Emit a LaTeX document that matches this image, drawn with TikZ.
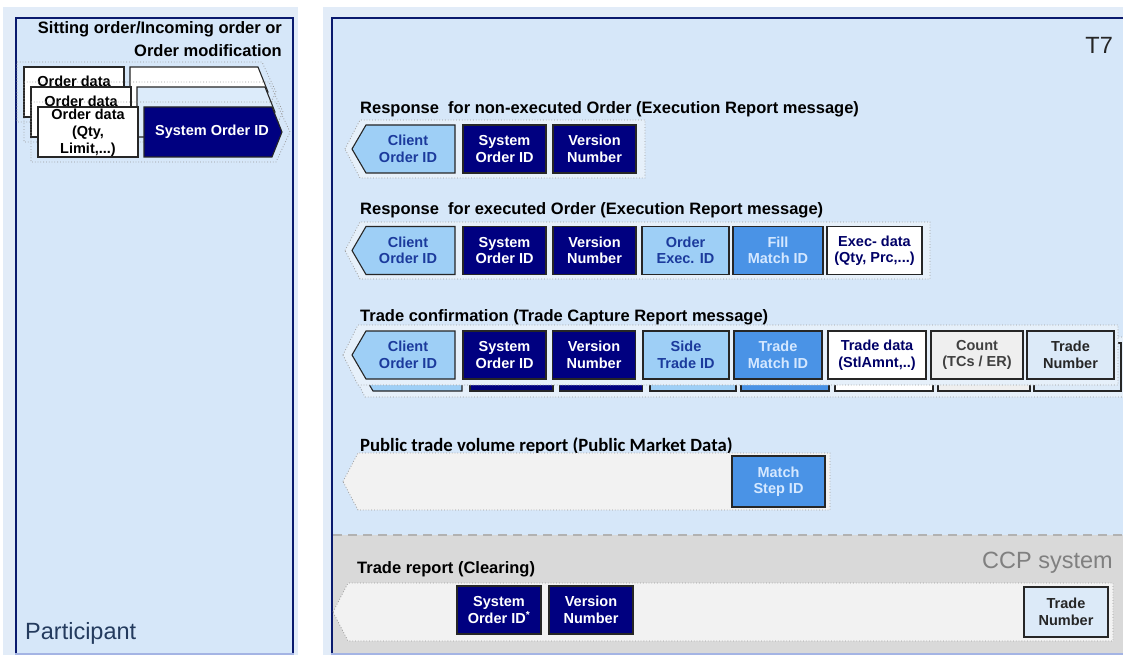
\documentclass[tikz,border=0pt]{standalone}
\usepackage{fontspec}
\setmainfont{Liberation Sans}
\newfontfamily\calfont{Carlito}
\definecolor{panelfill}{HTML}{D6E7F9}
\definecolor{framefill}{HTML}{E2ECF8}
\definecolor{panelline}{HTML}{0A1A6E}
\definecolor{navybox}{HTML}{000080}
\definecolor{lightbox}{HTML}{9ECFF6}
\definecolor{midbox}{HTML}{4A93E6}
\definecolor{countbox}{HTML}{EFEFEF}
\definecolor{numbox}{HTML}{DCEAF8}
\definecolor{layerblue}{HTML}{DCEBFA}
\definecolor{envfill}{HTML}{E6F0FA}
\definecolor{greyenv}{HTML}{F2F2F2}
\definecolor{ccpfill}{HTML}{D9D9D9}
\definecolor{boxline}{HTML}{262626}
\definecolor{bluetext}{HTML}{1B3A9C}
\definecolor{paletext}{HTML}{D5E8FF}
\definecolor{labeltext}{HTML}{243B5E}
\definecolor{bottomline}{HTML}{A4B4E4}
\newcommand{\fieldfont}{\bfseries\fontsize{14.5}{16.5}\selectfont}
\newcommand{\titlefont}{\bfseries\fontsize{16.5}{19}\selectfont}
\newcommand{\envelope}[5]{%
  \filldraw[env, fill=#5] (#1,{(#2+#3)/2}) -- ({#1+15},#2) -- (#4,#2) -- (#4,#3) -- ({#1+15},#3) -- cycle;}
\newcommand{\clientfield}[3]{%
  \filldraw[fieldline, fill=lightbox] (352,#2) -- (366,{#2-24}) -- (455,{#2-24}) -- (455,{#2+24}) -- (366,{#2+24}) -- cycle;
  \node[fieldtext, text=bluetext] (#1) at (408,#2) {#3};}

\begin{document}
\begin{tikzpicture}[x=1pt, y=-1pt,
  env/.style={draw=gray!80, dotted, line width=0.8pt},
  fieldline/.style={draw=boxline, line width=1.1pt},
  fieldtext/.style={font=\fieldfont, align=center, inner sep=0pt},
  field/.style={fieldline, fieldtext, minimum width=83pt, minimum height=48pt},
  navyfield/.style={field, fill=navybox, text=white},
  lightfield/.style={field, fill=lightbox, text=bluetext},
  midfield/.style={field, fill=midbox, text=paletext},
  whitefield/.style={field, fill=white, text=navybox!80!black},
  rowtitle/.style={font=\titlefont, anchor=base west, inner sep=0pt},
  panellabel/.style={font=\fontsize{23.5}{26}\selectfont, inner sep=0pt}]
\useasboundingbox (0,0) rectangle (1123,655);
\clip (0,0) rectangle (1123,655);
\fill[framefill] (3,7) rectangle (298,660);
\fill[framefill] (323,7) rectangle (1130,660);
\filldraw[fill=panelfill, draw=panelline, line width=2.2pt] (16,18) rectangle (293,670);
\filldraw[fill=panelfill, draw=panelline, line width=2.2pt] (332,18) rectangle (1140,670);
\fill[ccpfill] (333.2,535) rectangle (1123,655);
\draw[gray!60, dash pattern=on 9pt off 6pt, line width=2pt] (333,535) -- (1123,535);
\draw[bottomline, line width=1.2pt] (15,654) -- (294,654) (331,654) -- (1123,654);

\node[panellabel, anchor=east, text=black!85] (t7) at (1113,45) {T7};
\node[panellabel, anchor=east, text=gray] (ccp) at (1113,563) {CCP system};
\node[panellabel, anchor=west, text=labeltext] (part) at (25,633) {Participant};

% participant side
\node[font=\bfseries\fontsize{16.5}{23}\selectfont, align=right, anchor=north east, inner sep=0pt] (sitting) at (282,21) {Sitting order/Incoming order or\\Order modification};
\foreach \k/\af in {0/white,1/layerblue,2/navybox}{
  \begin{scope}[shift={(7*\k,20*\k)}]
    \draw[env] (17,62) -- (262,62) -- (276,92) -- (262,122) -- (17,122) -- cycle;
    \filldraw[fieldline, fill=\af] (130,67) -- (258,67) -- (268,92) -- (258,117) -- (130,117) -- cycle;
    \node[fieldline, fill=white, minimum width=100pt, minimum height=50pt] (ord\k) at (74,92) {};
    \ifnum\k<2
      \node[fieldtext] (ordtxt\k) at (74,81) {Order data};
    \else
      \node[fieldtext, font=\bfseries\fontsize{14.5}{17}\selectfont] (ordtxt\k) at (74,93) {Order data\\(Qty,\\Limit,...)};
      \node[fieldtext, text=white] (sysid) at (198,92) {System Order ID};
    \fi
  \end{scope}
}

% non-executed
\node[rowtitle] (r1) at (360,114) {Response\ \ for non-executed Order (Execution Report message)};
\envelope{345}{120}{178}{645}{envfill}
\clientfield{co1}{149}{Client\\Order ID}
\node[navyfield] (so1) at (504.5,149) {System\\Order ID};
\node[navyfield] (vn1) at (594.5,149) {Version\\Number};

% executed
\node[rowtitle] (r2) at (360,214) {Response\ \ for executed Order (Execution Report message)};
\envelope{345}{222}{279}{930}{envfill}
\clientfield{co2}{250.5}{Client\\Order ID}
\node[navyfield] (so2) at (504.5,250.5) {System\\Order ID};
\node[navyfield] (vn2) at (594.5,250.5) {Version\\Number};
\node[lightfield, minimum width=87pt] (oe2) at (685.5,250.5) {Order\\Exec. ID};
\node[midfield, minimum width=90pt] (fm2) at (778,250.5) {Fill\\Match ID};
\node[whitefield, minimum width=95pt] (ed2) at (874.5,250.5) {Exec- data\\(Qty, Prc,...)};

% trade confirmation
\node[rowtitle] (r3) at (360,321) {Trade confirmation (Trade Capture Report message)};
\begin{scope}[shift={(7,12)}]
  \envelope{343}{325}{385}{1125}{envfill}
  \clientfield{cob3}{355}{}
  \foreach \cx/\w/\f [count=\i] in {504.5/83pt/navybox, 594/83pt/navybox, 686/86pt/lightbox, 778/88pt/midbox, 877/98pt/white, 977/92pt/countbox, 1070.5/87pt/numbox}
    \node[field, fill=\f, minimum width=\w] (back\i) at (\cx,355) {};
\end{scope}
\envelope{343}{325}{385}{1118}{envfill}
\clientfield{co3}{355}{Client\\Order ID}
\node[navyfield] (so3) at (504.5,355) {System\\Order ID};
\node[navyfield] (vn3) at (594,355) {Version\\Number};
\node[lightfield, minimum width=86pt] (st3) at (686,355) {Side\\Trade ID};
\node[midfield, minimum width=88pt] (tm3) at (778,355) {Trade\\Match ID};
\node[whitefield, minimum width=98pt] (td3) at (877,355) {Trade data\\(StlAmnt,..)};
\node[field, fill=countbox, text=black!75, minimum width=92pt] (cn3) at (977,355) {Count\\(TCs / ER)};
\node[field, fill=numbox, text=black!85, minimum width=87pt] (tn3) at (1070.5,355) {Trade\\Number};

% public market data
\node[rowtitle, font=\calfont\bfseries\fontsize{18.7}{21}\selectfont] (r4) at (360,451) {Public trade volume report (Public Market Data)};
\envelope{343}{453}{510}{830}{greyenv}
\node[midfield, minimum width=93pt, minimum height=51pt] (ms4) at (778.5,481.5) {Match\\Step ID};

% clearing
\node[rowtitle] (r5) at (357,573) {Trade report (Clearing)};
\envelope{333}{583}{641}{1113}{greyenv}
\node[navyfield, minimum width=84pt] (so5) at (499,610) {System\\Order ID\textsuperscript{*}};
\node[navyfield, minimum width=84pt] (vn5) at (591,610) {Version\\Number};
\node[field, fill=numbox, text=black!85, minimum width=84pt, minimum height=50pt] (tn5) at (1066,612) {Trade\\Number};
\end{tikzpicture}
\end{document}
